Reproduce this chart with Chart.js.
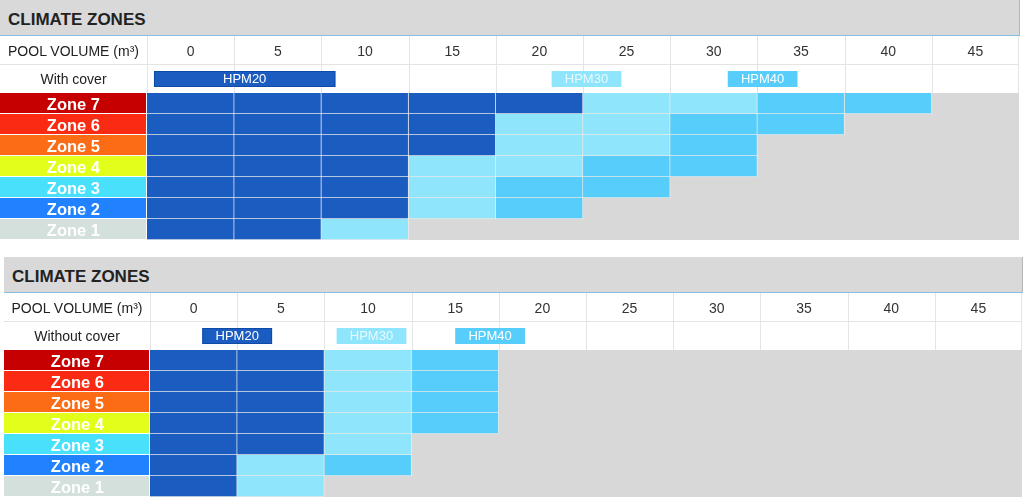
<!DOCTYPE html>
<html>
<head>
<meta charset="utf-8">
<script src="https://cdn.jsdelivr.net/npm/chart.js@4.4.1/dist/chart.umd.min.js"></script>
<style>
  html, body { margin:0; padding:0; background:#fff; }
  body { width:1024px; height:498px; overflow:hidden; position:relative;
         font-family:"Liberation Sans", Arial, Helvetica, sans-serif; }
  .panel { position:absolute; }
  .hdr { position:absolute; left:0; top:0; height:36px; background:#d9d9d9;
         border-bottom:1px solid #86bde0; border-right:1px solid #b5b5b5; box-sizing:border-box;
         font-weight:bold; font-size:17px; color:#222; padding-left:8px; line-height:40px; }
  .lbl { position:absolute; left:0; height:28px; line-height:28px; text-align:center;
         font-size:14px; color:#222; pointer-events:none; }
  canvas { position:absolute; left:0; top:36px; }
</style>
</head>
<body>
<div class="panel" id="p1" style="left:0;top:0;width:1019px;height:241px;">
  <div class="hdr" style="width:1020px;">CLIMATE ZONES</div>
  <canvas id="c1" width="1019" height="204"></canvas>
  <div class="lbl" style="top:37px;width:147px;">POOL VOLUME (m³)</div>
  <div class="lbl" style="top:65px;width:147px;">With cover</div>
</div>
<div class="panel" id="p2" style="left:4px;top:257px;width:1018px;height:241px;">
  <div class="hdr" style="width:1019px;">CLIMATE ZONES</div>
  <canvas id="c2" width="1018" height="204"></canvas>
  <div class="lbl" style="top:37px;width:146px;">POOL VOLUME (m³)</div>
  <div class="lbl" style="top:65px;width:146px;">Without cover</div>
</div>

<script>
// ---------------- DATA ----------------
const tickLabels = ['0','5','10','15','20','25','30','35','40','45'];
const zones = ['Zone 7','Zone 6','Zone 5','Zone 4','Zone 3','Zone 2','Zone 1'];
const models = ['HPM20','HPM30','HPM40'];

// m³ range width covered by each model, per zone (Zone 7 ... Zone 1), with cover
const withCoverHPM20 = [25, 20, 20, 15, 15, 15, 10];
const withCoverHPM30 = [10, 10, 10, 10,  5,  5,  5];
const withCoverHPM40 = [10, 10,  5, 10, 10,  5,  0];

// without cover
const noCoverHPM20 = [10, 10, 10, 10, 10, 5, 5];
const noCoverHPM30 = [ 5,  5,  5,  5,  5, 5, 5];
const noCoverHPM40 = [ 5,  5,  5,  5,  0, 5, 0];

// ---------------- STYLE ----------------
const FONT = '"Liberation Sans", Arial, Helvetica, sans-serif';
const modelColors = ['#1a5cc0', '#8fe6fc', '#56cdfb'];
const legendText = ['#ffffff', '#e9f9ff', '#ffffff'];
const zoneColors = ['#c60000', '#fb2a12', '#fb6c14', '#e2ff1c', '#48e0fa', '#2082fe', '#d4e0dc'];
Chart.defaults.font.family = FONT;

const step = Number(tickLabels[1]) - Number(tickLabels[0]);
const xMax = Number(tickLabels[tickLabels.length - 1]) + step;

function buildDatasets(spans) {
  const sets = [];
  for (let c = 0; c < tickLabels.length; c++) {
    const data = [], colors = [];
    zones.forEach((z, zi) => {
      let start = 0, found = -1;
      spans.forEach((arr, mi) => {
        const end = start + arr[zi];
        if (c * step >= start && (c + 1) * step <= end) found = mi;
        start = end;
      });
      if (found < 0) { data.push(null); colors.push('rgba(0,0,0,0)'); }
      else { data.push([c * step, (c + 1) * step]); colors.push(modelColors[found]); }
    });
    sets.push({
      label: 'col ' + tickLabels[c],
      data, backgroundColor: colors,
      borderColor: 'rgba(255,255,255,0.45)',
      borderWidth: { top: 0, left: 0, right: 1, bottom: 1 },
      borderSkipped: false,
      barPercentage: 1, categoryPercentage: 1, grouped: false
    });
  }
  return sets;
}

const tablePlugin = {
  id: 'table',
  beforeDraw(chart, args, opts) {
    const { ctx, chartArea: a, scales: { x, y } } = chart;
    ctx.save();
    ctx.fillStyle = '#ffffff';
    ctx.fillRect(0, 0, chart.width, chart.height);
    // zone area background
    ctx.fillStyle = '#d8d8d8';
    ctx.fillRect(a.left, a.top, a.right - a.left, a.bottom - a.top);
    // zone label cells
    const rowH = y.getPixelForValue(1) - y.getPixelForValue(0);
    zones.forEach((z, i) => {
      const cy = y.getPixelForValue(i);
      ctx.fillStyle = zoneColors[i];
      ctx.fillRect(0, Math.round(cy - rowH / 2), a.left - 1, Math.round(rowH) - 1);
    });
    // header table lines
    ctx.strokeStyle = '#e4e4e4';
    ctx.lineWidth = 1;
    ctx.beginPath();
    for (let v = 0; v <= xMax; v += step) {
      const px = Math.min(Math.round(x.getPixelForValue(v)), chart.width - 1) + 0.5;
      ctx.moveTo(px, 0); ctx.lineTo(px, a.top);
    }
    ctx.moveTo(0, 28.5); ctx.lineTo(chart.width, 28.5);
    ctx.stroke();
    // legend boxes in cover row
    ctx.font = '13px ' + FONT;
    ctx.textAlign = 'center';
    ctx.textBaseline = 'middle';
    opts.boxes.forEach(b => {
      const mi = models.indexOf(b.label);
      const x0 = x.getPixelForValue(b.from), x1 = x.getPixelForValue(b.to);
      ctx.fillStyle = modelColors[mi];
      ctx.fillRect(x0, 35, x1 - x0, 16);
      if (mi === 0) { ctx.strokeStyle = '#0f4aa6'; ctx.strokeRect(x0 + 0.5, 35.5, x1 - x0 - 1, 15); }
      ctx.fillStyle = legendText[mi];
      ctx.fillText(b.label, (x0 + x1) / 2, 43.5);
    });
    ctx.restore();
  }
};

function makeChart(id, spans, labelW, boxes) {
  return new Chart(document.getElementById(id), {
    type: 'bar',
    data: { labels: zones, datasets: buildDatasets(spans) },
    plugins: [tablePlugin],
    options: {
      indexAxis: 'y',
      responsive: false,
      animation: false,
      events: [],
      layout: { padding: 0 },
      plugins: { legend: { display: false }, tooltip: { enabled: false }, table: { boxes } },
      scales: {
        x: {
          type: 'linear', position: 'top', min: 0, max: xMax,
          grid: { display: false, drawTicks: false },
          border: { display: false },
          afterBuildTicks: s => { s.ticks = tickLabels.map(t => ({ value: Number(t) + step / 2 })); },
          afterFit: s => { s.height = 57; s.paddingLeft = 0; s.paddingRight = 0; },
          ticks: {
            autoSkip: false, maxRotation: 0, minRotation: 0, padding: 32,
            color: '#333', font: { size: 14 },
            callback: (v, i) => tickLabels[i]
          }
        },
        y: {
          type: 'category', position: 'left',
          grid: { display: false, drawTicks: false },
          border: { display: false },
          afterFit: s => { s.width = labelW; s.paddingTop = 0; s.paddingBottom = 0; },
          ticks: {
            autoSkip: false, labelOffset: 1.5,
            color: '#ffffff', padding: labelW - 100,
            font: { size: 16.5, weight: 'bold' }
          }
        }
      }
    }
  });
}

makeChart('c1', [withCoverHPM20, withCoverHPM30, withCoverHPM40], 147, [
  { label: 'HPM20', from: 0.4, to: 10.8 },
  { label: 'HPM30', from: 23.2, to: 27.2 },
  { label: 'HPM40', from: 33.3, to: 37.3 }
]);
makeChart('c2', [noCoverHPM20, noCoverHPM30, noCoverHPM40], 146, [
  { label: 'HPM20', from: 3.0, to: 7.0 },
  { label: 'HPM30', from: 10.7, to: 14.7 },
  { label: 'HPM40', from: 17.5, to: 21.5 }
]);
</script>
</body>
</html>
